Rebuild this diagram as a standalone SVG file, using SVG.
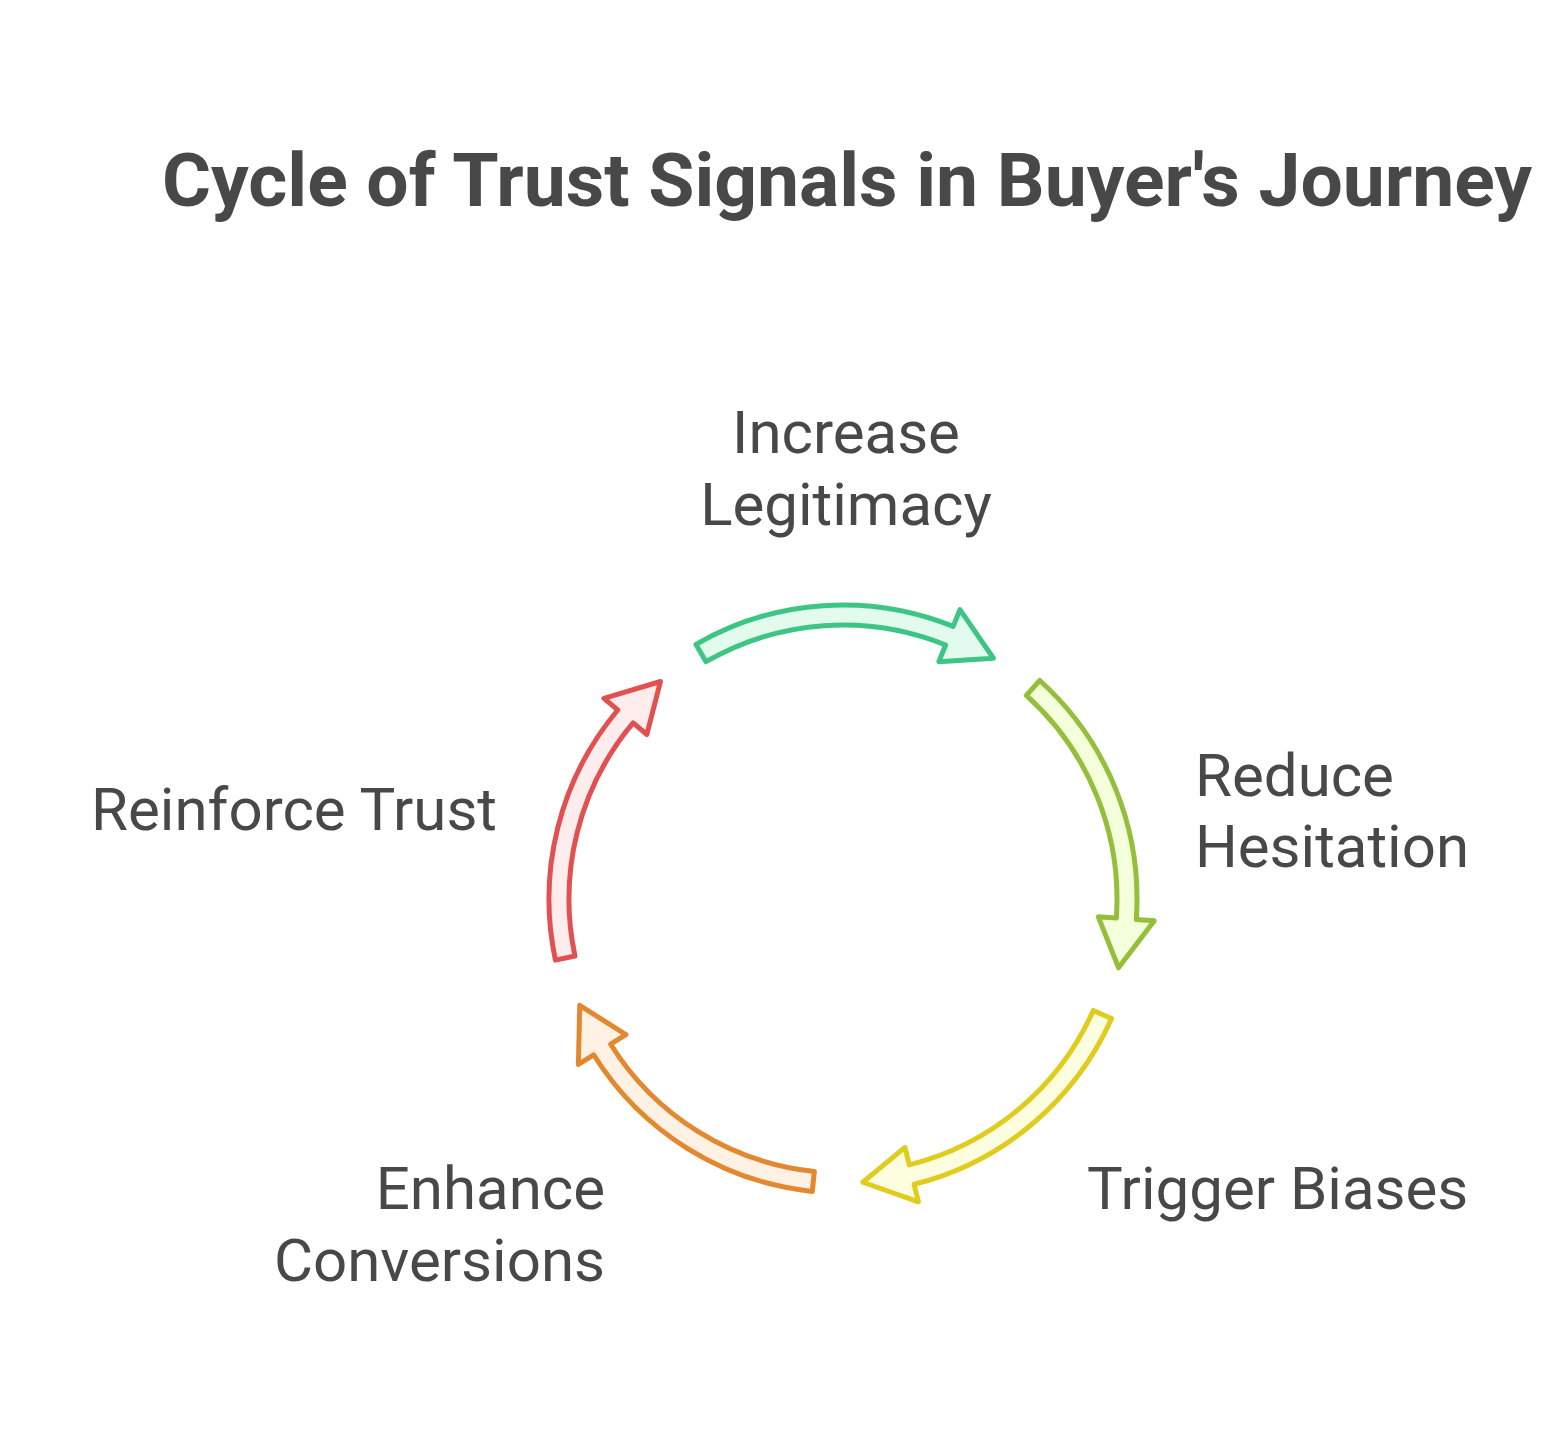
<svg xmlns="http://www.w3.org/2000/svg" width="1548" height="1440" viewBox="0 0 1548 1440">
<style>
.t{font-family:Roboto,"Liberation Sans",sans-serif;fill:#484848;font-size:60px}
.h{font-family:Roboto,"Liberation Sans",sans-serif;fill:#484848;font-size:75px;font-weight:bold}
.a{stroke-width:5;stroke-linejoin:round}
</style>
<defs>
<path id="arr" d="M294,0 A294,294 0 0 1 181.0,231.7 L192.1,245.9 L133.3,250.7 L157.6,201.7 L168.7,215.9 A274,274 0 0 0 274,0 Z"/>
</defs>
<rect width="1548" height="1440" fill="#fff"/>
<text class="h" x="847" y="206" text-anchor="middle">Cycle of Trust Signals in Buyer's Journey</text>
<g id="connectors">
<use href="#arr" class="a" transform="translate(843,899) rotate(-120)" fill="#e3fbef" stroke="#3cc583"/>
<use href="#arr" class="a" transform="translate(843,899) rotate(-48)" fill="#f4ffdc" stroke="#93bf3a"/>
<use href="#arr" class="a" transform="translate(843,899) rotate(24)" fill="#fdfde0" stroke="#e0cc1e"/>
<use href="#arr" class="a" transform="translate(843,899) rotate(96)" fill="#fff1e3" stroke="#e2882f"/>
<use href="#arr" class="a" transform="translate(843,899) rotate(168)" fill="#ffeded" stroke="#e25151"/>
</g>
<g id="increase"><text class="t" x="846" y="453" text-anchor="middle">Increase</text><text class="t" x="846" y="525" text-anchor="middle">Legitimacy</text></g>
<g id="reduce"><text class="t" x="1195" y="796">Reduce</text><text class="t" x="1195" y="867">Hesitation</text></g>
<g id="trigger"><text class="t" x="1087" y="1209">Trigger Biases</text></g>
<g id="enhance"><text class="t" x="605" y="1209" text-anchor="end">Enhance</text><text class="t" x="605" y="1281" text-anchor="end">Conversions</text></g>
<g id="reinforce"><text class="t" x="497" y="830" text-anchor="end">Reinforce Trust</text></g>
</svg>
